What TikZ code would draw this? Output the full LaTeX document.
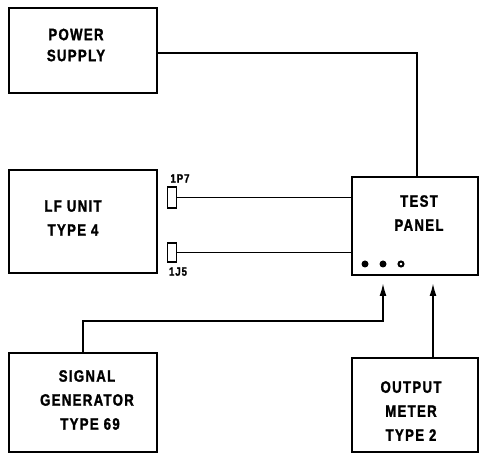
\documentclass[tikz,border=0pt]{standalone}
\usepackage{fontspec}
\newfontfamily\boxfont[FakeStretch=0.8,FakeBold=1.5,LetterSpace=8]{Liberation Sans Bold}
\usetikzlibrary{arrows.meta, positioning, calc}

\tikzset{
  box/.style={draw, line width=2.4pt, inner sep=0pt},
  boxtext/.style={align=center, font=\boxfont\fontsize{16.5}{24}\selectfont},
  plug/.style={draw, line width=1.8pt, minimum width=9pt, inner sep=0pt},
  plugtext/.style={font=\boxfont\fontsize{12}{12}\selectfont},
  wire/.style={line width=1.9pt},
  feed/.style={line width=1.9pt, -{Latex[length=13pt,width=7pt]}}
}

\begin{document}
\begin{tikzpicture}[x=1pt, y=-1pt]
  \useasboundingbox (0,0) rectangle (483,454);
  % Boxes
  \node[box, minimum width=148pt, minimum height=85pt]  (power)  at (83,50.5) {};
  \node[box, minimum width=148pt, minimum height=103pt] (lf)     at (83,221.5) {};
  \node[box, minimum width=126pt, minimum height=98pt]  (panel)  at (415,226) {};
  \node[box, minimum width=148pt, minimum height=99pt]  (siggen) at (83,402.5) {};
  \node[box, minimum width=126pt, minimum height=94pt]  (meter)  at (415,405) {};
  % Box texts
  \node[boxtext] (powertxt)  at (76,45)   {POWER\\[-3pt]SUPPLY};
  \node[boxtext] (lftxt)     at (73,218)  {LF UNIT\\TYPE 4};
  \node[boxtext] (paneltxt)  at (419,213) {TEST\\PANEL};
  \node[boxtext] (siggentxt) at (87,400)  {SIGNAL\\GENERATOR\\\hspace*{6pt}TYPE 69};
  \node[boxtext] (metertxt)  at (411,411) {OUTPUT\\METER\\TYPE 2};
  % Plugs on the LF unit side
  \node[plug, minimum height=21pt, label={[plugtext, xshift=8pt, label distance=0pt]above:1P7}] (p7) at (172,197.5) {};
  \node[plug, minimum height=19pt, label={[plugtext, xshift=6pt, label distance=1pt]below:1J5}] (j5) at (172,252.5) {};
  % Panel jacks
  \foreach \i/\x in {1/365, 2/383}
    {\node[circle, fill, inner sep=0pt, minimum size=7pt] (dot\i) at (\x,264) {};}
  \node[circle, draw, line width=2pt, inner sep=0pt, minimum size=5pt] (dot3) at (401,264) {};
  % Wiring
  \draw[wire] (power.east |- 0,53) -| (panel.north -| 417,0);
  \draw[wire] (p7.east) -- (p7.east -| panel.west);
  \draw[wire] (j5.east) -- (j5.east -| panel.west);
  \coordinate (sgbend) at (383,321);
  \coordinate (sgtip)  at (383,283);
  \coordinate (mtip)   at (433,283);
  \draw[feed] (siggen.north) |- (sgbend) -- (sgtip);
  \draw[feed] (mtip |- meter.north) -- (mtip);
\end{tikzpicture}
\end{document}
